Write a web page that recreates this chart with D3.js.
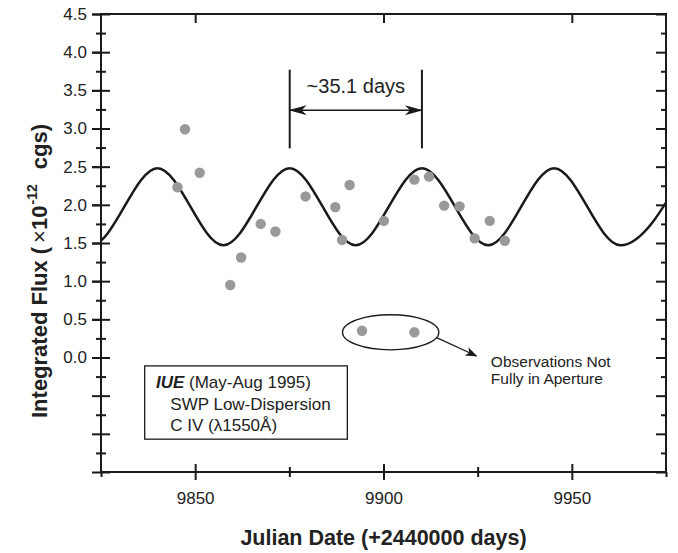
<!DOCTYPE html>
<html>
<head>
<meta charset="utf-8">
<script src="https://cdn.jsdelivr.net/npm/d3@7"></script>
<style>
    body { margin: 0; background: #fff; }
    text { font-family: Arial, "Liberation Sans", Helvetica, sans-serif; fill: #222; }
</style>
</head>
<body>
<div id="chart"></div>
<script>
// IUE observations, JD - 2440000 and flux in 1e-12 cgs
var obsDays = [9845.3, 9847.3, 9851.2, 9859.3, 9862.2, 9867.4, 9871.3, 9879.3, 9887.2, 9889.0,
    9891.0, 9900.1, 9908.2, 9912.1, 9916.1, 9920.2, 9924.2, 9928.2, 9932.2];
var obsFlux = [2.23, 2.99, 2.42, 0.95, 1.31, 1.75, 1.65, 2.11, 1.97, 1.54,
    2.26, 1.79, 2.33, 2.37, 1.99, 1.98, 1.56, 1.79, 1.53];

// observations not fully in aperture
var apDays = [9894.3, 9908.2];
var apFlux = [0.35, 0.33];

// turning points of the ~35.1 day fit curve
var fitDays = [9804.9, 9822.4, 9840.0, 9857.5, 9875.1, 9892.6, 9910.2, 9927.8, 9945.3, 9962.9, 9980.4];
var fitFlux = [2.48, 1.47, 2.48, 1.47, 2.48, 1.47, 2.48, 1.47, 2.48, 1.47, 2.48];

// ticks
var xMajorTicks = [9850, 9900, 9950];
var xMinorTicks = [9875, 9925];
var xEndTicks = [9825, 9975];
var yLabelTicks = [0.0, 0.5, 1.0, 1.5, 2.0, 2.5, 3.0, 3.5, 4.0, 4.5];
var yMajorTicks = [-1.5, -1.0, -0.5, 0.0, 0.5, 1.0, 1.5, 2.0, 2.5, 3.0, 3.5, 4.0, 4.5];
var yMinorTicks = [-1.25, -0.75, -0.25, 0.25, 0.75, 1.25, 1.75, 2.25, 2.75, 3.25, 3.75, 4.25];

// period annotation
var periodStart = 9875.1, periodDays = 35.1;

var margin = { top: 14, right: 12, bottom: 81, left: 101 },
    width = 678 - margin.left - margin.right,
    height = 553 - margin.top - margin.bottom;

var svg = d3.select("#chart").append("svg")
    .attr("width", 678)
    .attr("height", 553);

var defs = svg.append("defs");
defs.append("clipPath").attr("id", "plot-clip")
    .append("rect").attr("width", width).attr("height", height);
defs.append("marker").attr("id", "head-big")
    .attr("viewBox", "0 0 18 10").attr("refX", 17).attr("refY", 5)
    .attr("markerWidth", 18).attr("markerHeight", 10)
    .attr("markerUnits", "userSpaceOnUse").attr("orient", "auto-start-reverse")
    .append("path").attr("d", "M0,0 L18,5 L0,10 L5,5 Z").attr("fill", "#1a1a1a");
defs.append("marker").attr("id", "head-small")
    .attr("viewBox", "0 0 12 9").attr("refX", 11).attr("refY", 4.5)
    .attr("markerWidth", 12).attr("markerHeight", 9)
    .attr("markerUnits", "userSpaceOnUse").attr("orient", "auto")
    .append("path").attr("d", "M0,0 L12,4.5 L0,9 L3,4.5 Z").attr("fill", "#1a1a1a");

var g = svg.append("g")
    .attr("transform", `translate(${margin.left},${margin.top})`);

var x = d3.scaleLinear().domain([9825, 9975]).range([0, width]);
var y = d3.scaleLinear().domain([-1.5, 4.5]).range([height, 0]);

// frame
g.append("rect")
    .attr("width", width).attr("height", height)
    .attr("fill", "none").attr("stroke", "#1a1a1a").attr("stroke-width", 2);

function styleAxis(sel) {
    sel.select(".domain").remove();
    sel.selectAll(".tick line").attr("stroke", "#1a1a1a").attr("stroke-width", 2);
    sel.selectAll(".tick text").attr("fill", "#222")
        .style("font-size", "17px").style("font-family", "Arial, 'Liberation Sans', sans-serif");
}

// left axis, ticks crossing the line
g.append("g").call(d3.axisLeft(y).tickValues(yLabelTicks).tickSize(9).tickPadding(5)
    .tickFormat(d3.format(".1f"))).call(styleAxis);
g.append("g").call(d3.axisLeft(y).tickValues(yMajorTicks).tickSize(9).tickFormat("")).call(styleAxis);
g.append("g").call(d3.axisRight(y).tickValues(yMajorTicks).tickSize(9).tickFormat("")).call(styleAxis);
g.append("g").call(d3.axisLeft(y).tickValues(yMinorTicks).tickSize(5).tickFormat("")).call(styleAxis);
g.append("g").call(d3.axisRight(y).tickValues(yMinorTicks).tickSize(5).tickFormat("")).call(styleAxis);

// right axis, ticks inside
g.append("g").attr("transform", `translate(${width},0)`)
    .call(d3.axisLeft(y).tickValues(yMajorTicks).tickSize(10).tickFormat("")).call(styleAxis);
g.append("g").attr("transform", `translate(${width},0)`)
    .call(d3.axisLeft(y).tickValues(yMinorTicks).tickSize(5).tickFormat("")).call(styleAxis);

// bottom axis, ticks crossing the line
g.append("g").attr("transform", `translate(0,${height})`)
    .call(d3.axisBottom(x).tickValues(xMajorTicks).tickSize(8).tickPadding(12)
        .tickFormat(d3.format("d"))).call(styleAxis);
g.append("g").attr("transform", `translate(0,${height})`)
    .call(d3.axisTop(x).tickValues(xMajorTicks).tickSize(8).tickFormat("")).call(styleAxis);
g.append("g").attr("transform", `translate(0,${height})`)
    .call(d3.axisBottom(x).tickValues(xMinorTicks.concat(xEndTicks)).tickSize(5).tickFormat("")).call(styleAxis);
g.append("g").attr("transform", `translate(0,${height})`)
    .call(d3.axisTop(x).tickValues(xMinorTicks).tickSize(5).tickFormat("")).call(styleAxis);

// top axis, ticks inside
g.append("g").call(d3.axisBottom(x).tickValues(xMajorTicks).tickSize(9).tickFormat("")).call(styleAxis);

// the fit curve
var fitLine = d3.line()
    .x((d, i) => x(fitDays[i]))
    .y((d, i) => y(fitFlux[i]))
    .curve(d3.curveMonotoneX);
g.append("path")
    .datum(fitDays)
    .attr("clip-path", "url(#plot-clip)")
    .attr("fill", "none")
    .attr("stroke", "#1a1a1a")
    .attr("stroke-width", 2.5)
    .attr("d", fitLine);

// data points
g.selectAll(".obs")
    .data(obsDays.map((d, i) => [d, obsFlux[i]]).concat(apDays.map((d, i) => [d, apFlux[i]])))
    .enter().append("circle")
    .attr("class", "obs")
    .attr("cx", d => x(d[0]))
    .attr("cy", d => y(d[1]))
    .attr("r", 5.2)
    .attr("fill", "#999");

// period marker
var pEnd = periodStart + periodDays;
[periodStart, pEnd].forEach(function (d) {
    g.append("line")
        .attr("x1", x(d)).attr("x2", x(d))
        .attr("y1", y(3.77)).attr("y2", y(2.74))
        .attr("stroke", "#1a1a1a").attr("stroke-width", 2);
});
g.append("line")
    .attr("x1", x(periodStart)).attr("x2", x(pEnd))
    .attr("y1", y(3.24)).attr("y2", y(3.24))
    .attr("stroke", "#1a1a1a").attr("stroke-width", 1.5)
    .attr("marker-start", "url(#head-big)")
    .attr("marker-end", "url(#head-big)");
g.append("text")
    .attr("x", x(periodStart + periodDays / 2))
    .attr("y", y(3.46))
    .attr("text-anchor", "middle")
    .style("font-size", "20px")
    .text("~35.1 days");

// aperture note
g.append("ellipse")
    .attr("cx", x(9901.9)).attr("cy", y(0.33))
    .attr("rx", x(9901.9 + 12.8) - x(9901.9)).attr("ry", y(0.33) - y(0.56))
    .attr("fill", "none").attr("stroke", "#1a1a1a").attr("stroke-width", 1.3);
g.append("line")
    .attr("x1", x(9914.1)).attr("y1", y(0.26))
    .attr("x2", x(9924.7)).attr("y2", y(0.02))
    .attr("stroke", "#1a1a1a").attr("stroke-width", 1.3)
    .attr("marker-end", "url(#head-small)");
var note = g.append("text").style("font-size", "15.5px");
note.append("tspan").attr("x", x(9928.5)).attr("y", y(-0.125)).text("Observations Not");
note.append("tspan").attr("x", x(9928.5)).attr("dy", 16.5).text("Fully in Aperture");

// legend box
g.append("rect")
    .attr("x", x(9836.6)).attr("y", y(-0.11))
    .attr("width", x(9890.4) - x(9836.6)).attr("height", y(-1.07) - y(-0.11))
    .attr("fill", "#fff").attr("stroke", "#1a1a1a").attr("stroke-width", 1.3);
var leg = g.append("text").style("font-size", "17px");
leg.append("tspan").attr("x", x(9839.6)).attr("y", y(-0.40))
    .style("font-weight", "bold").style("font-style", "italic").text("IUE");
leg.append("tspan").text(" (May-Aug 1995)");
leg.append("tspan").attr("x", x(9843.4)).attr("y", y(-0.69)).text("SWP Low-Dispersion");
leg.append("tspan").attr("x", x(9843.4)).attr("y", y(-0.96)).text("C IV (\u03bb1550\u00c5)");

// axis titles
svg.append("text")
    .attr("x", margin.left + width / 2)
    .attr("y", 545)
    .attr("text-anchor", "middle")
    .style("font-size", "21.5px")
    .style("font-weight", "bold")
    .text("Julian Date (+2440000 days)");

var yTitle = svg.append("text")
    .attr("transform", "translate(47,418) rotate(-90)")
    .style("font-size", "22px")
    .style("font-weight", "bold");
yTitle.append("tspan").text("Integrated Flux (");
yTitle.append("tspan").attr("dx", 4).style("font-weight", "normal").text("\u00d7");
yTitle.append("tspan").text("10");
yTitle.append("tspan").attr("dy", -10).attr("dx", 1).style("font-size", "14px").text("-12");
yTitle.append("tspan").attr("dy", 10).attr("dx", 9).text(" cgs)");
</script>
</body>
</html>
